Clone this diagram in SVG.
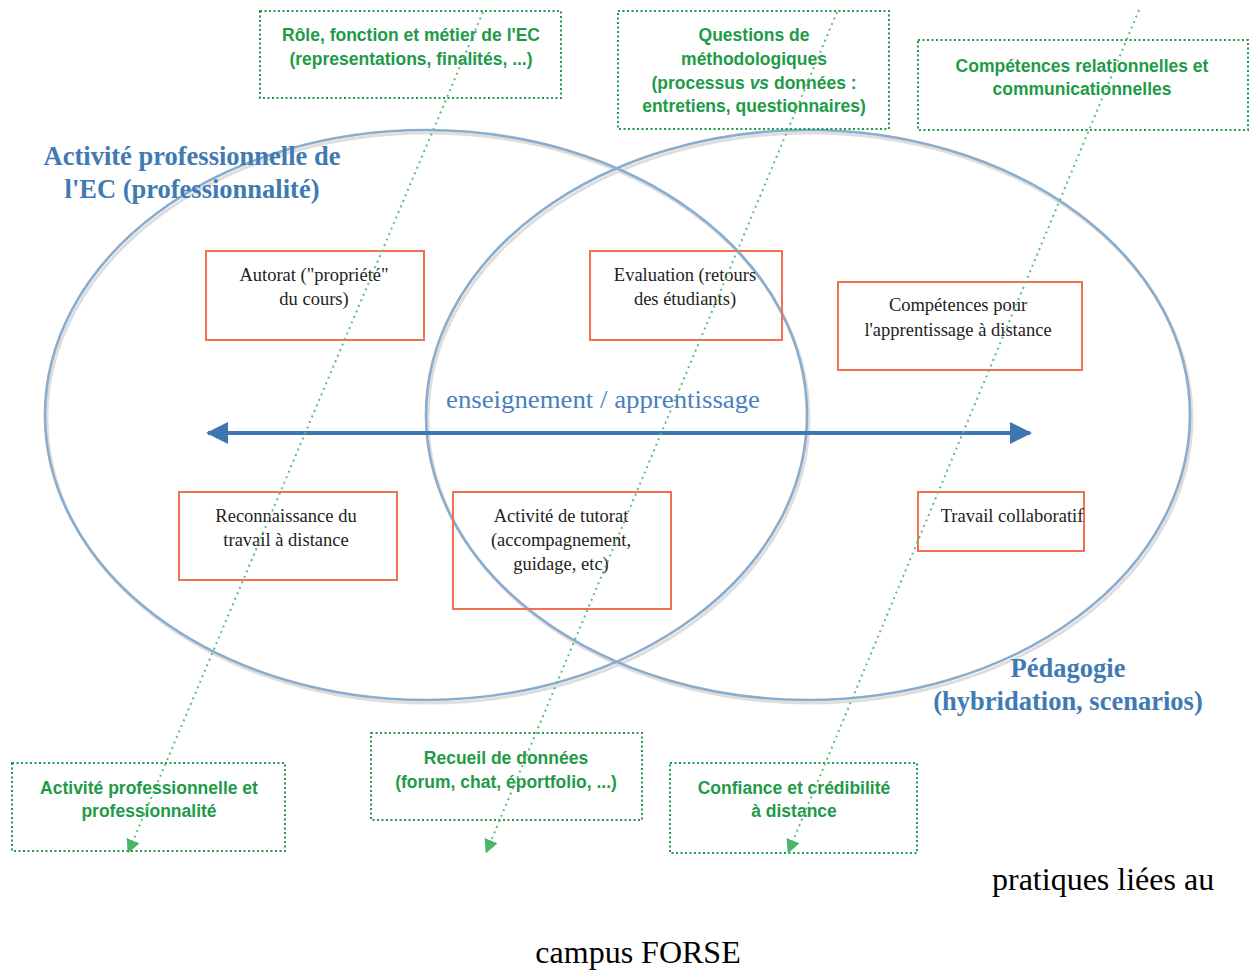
<svg xmlns="http://www.w3.org/2000/svg" width="1251" height="970" viewBox="0 0 1251 970">
<style>
.ell{fill:none;stroke:#8aaccd;stroke-width:2.6}
.ellsh{fill:none;stroke:#dedede;stroke-width:3}
.gbox{fill:none;stroke:#1e9a48;stroke-width:2;stroke-dasharray:2 2.5}
.gt{font-family:"Liberation Sans",Arial,sans-serif;font-weight:bold;font-size:17.5px;fill:#1e9a48;text-anchor:middle}
.obox{fill:none;stroke:#f2704f;stroke-width:2}
.ot{font-family:"Liberation Serif","Times New Roman",serif;font-size:18.5px;fill:#222;text-anchor:middle}
.bt{font-family:"Liberation Serif","Times New Roman",serif;font-weight:bold;font-size:26.5px;fill:#3f7ab3;text-anchor:middle}
.dl{fill:none;stroke:#5fbf7a;stroke-width:2;stroke-dasharray:2 4}
.bk{font-family:"Liberation Serif","Times New Roman",serif;font-size:32px;fill:#000}
</style>
<defs>
<marker id="garr" markerWidth="14" markerHeight="14" refX="8" refY="7" orient="auto" markerUnits="userSpaceOnUse">
<path d="M0,0 L14,7 L0,14 z" fill="#4cb56a"/>
</marker>
<marker id="barr" markerWidth="26" markerHeight="22" refX="20" refY="11" orient="auto-start-reverse" markerUnits="userSpaceOnUse">
<path d="M0,0 L22,11 L0,22 z" fill="#3d76b0"/>
</marker>
</defs>
<rect width="1251" height="970" fill="#fff"/>

<g id="ellipses">
<ellipse class="ellsh" cx="428" cy="418" rx="381" ry="285"/>
<ellipse class="ellsh" cx="810" cy="418" rx="382" ry="285"/>
<ellipse class="ell" cx="426" cy="415" rx="381" ry="285"/>
<ellipse class="ell" cx="808" cy="415" rx="382" ry="285"/>
</g>

<g id="label-activite">
<text class="bt" x="192" y="165">Activité professionnelle de</text>
<text class="bt" x="192" y="198">l'EC (professionnalité)</text>
</g>
<g id="label-pedagogie">
<text class="bt" x="1068" y="677">Pédagogie</text>
<text class="bt" x="1068" y="710">(hybridation, scenarios)</text>
</g>

<g id="node-autorat">
<rect class="obox" x="206" y="251" width="218" height="89"/>
<text class="ot" x="314" y="281">Autorat ("propriété"</text>
<text class="ot" x="314" y="305">du cours)</text>
</g>
<g id="node-evaluation">
<rect class="obox" x="590" y="251" width="192" height="89"/>
<text class="ot" x="685" y="281">Evaluation (retours</text>
<text class="ot" x="685" y="305">des étudiants)</text>
</g>
<g id="node-competences">
<rect class="obox" x="838" y="282" width="244" height="88"/>
<text class="ot" x="958" y="311">Compétences pour</text>
<text class="ot" x="958" y="336">l'apprentissage à distance</text>
</g>
<g id="node-reconnaissance">
<rect class="obox" x="179" y="492" width="218" height="88"/>
<text class="ot" x="286" y="522">Reconnaissance du</text>
<text class="ot" x="286" y="546">travail à distance</text>
</g>
<g id="node-tutorat">
<rect class="obox" x="453" y="492" width="218" height="117"/>
<text class="ot" x="561" y="522">Activité de tutorat</text>
<text class="ot" x="561" y="546">(accompagnement,</text>
<text class="ot" x="561" y="570">guidage, etc)</text>
</g>
<g id="node-collaboratif">
<rect class="obox" x="918" y="492" width="166" height="59"/>
<text class="ot" x="1012" y="522">Travail collaboratif</text>
</g>

<g id="node-role">
<rect class="gbox" x="260" y="11" width="301" height="87"/>
<text class="gt" x="411" y="41">Rôle, fonction et métier de l'EC</text>
<text class="gt" x="411" y="65">(representations, finalités, ...)</text>
</g>
<g id="node-questions">
<rect class="gbox" x="618" y="11" width="271" height="118"/>
<text class="gt" x="754" y="41">Questions de</text>
<text class="gt" x="754" y="65">méthodologiques</text>
<text class="gt" x="754" y="89">(processus <tspan font-style="italic">vs</tspan> données :</text>
<text class="gt" x="754" y="112">entretiens, questionnaires)</text>
</g>
<g id="node-relationnelles">
<rect class="gbox" x="918" y="40" width="330" height="90"/>
<text class="gt" x="1082" y="72">Compétences relationnelles et</text>
<text class="gt" x="1082" y="95">communicationnelles</text>
</g>
<g id="node-activite-pro">
<rect class="gbox" x="12" y="763" width="273" height="88"/>
<text class="gt" x="149" y="794">Activité professionnelle et</text>
<text class="gt" x="149" y="817">professionnalité</text>
</g>
<g id="node-recueil">
<rect class="gbox" x="371" y="733" width="271" height="87"/>
<text class="gt" x="506" y="764">Recueil de données</text>
<text class="gt" x="506" y="788">(forum, chat, éportfolio, ...)</text>
</g>
<g id="node-confiance">
<rect class="gbox" x="670" y="763" width="247" height="90"/>
<text class="gt" x="794" y="794">Confiance et crédibilité</text>
<text class="gt" x="794" y="817">à distance</text>
</g>

<g id="connectors">
<line x1="208" y1="433" x2="1030" y2="433" stroke="#3d76b0" stroke-width="4" marker-start="url(#barr)" marker-end="url(#barr)"/>
<line class="dl" x1="483" y1="12" x2="130" y2="848" marker-end="url(#garr)"/>
<line class="dl" x1="837" y1="12" x2="488" y2="848" marker-end="url(#garr)"/>
<line class="dl" x1="1139" y1="10" x2="790" y2="848" marker-end="url(#garr)"/>
</g>

<g id="label-enseignement">
<text x="603" y="408" font-family="'Liberation Serif','Times New Roman',serif" font-size="25" fill="#4a80bd" text-anchor="middle" textLength="314" lengthAdjust="spacingAndGlyphs">enseignement / apprentissage</text>
</g>

<g id="caption">
<text class="bk" x="992" y="890">pratiques liées au</text>
<text class="bk" x="638" y="963" text-anchor="middle">campus FORSE</text>
</g>
</svg>
